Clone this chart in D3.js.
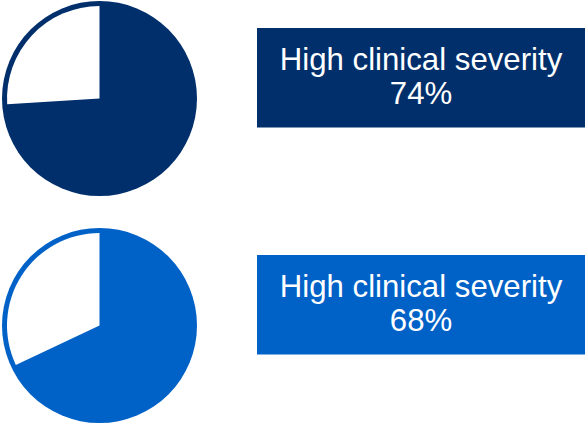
<!DOCTYPE html>
<html>
<head>
<meta charset="utf-8">
<script src="https://cdn.jsdelivr.net/npm/d3@7"></script>
<style>
  html, body { margin: 0; padding: 0; background: #fff; }
  svg { display: block; }
</style>
</head>
<body>
<svg id="chart" width="585" height="426"></svg>
<script>
// Share of patients with high clinical severity, one pie per group
const labels = ["High clinical severity", "High clinical severity"];
const shares = [74, 68];
const colors = ["#002F6C", "#0061C7"];

const svg = d3.select("#chart");
const W = 585;

const outerR = 97.5;
const innerR = 92.5;
const rowY = d3.scaleBand().domain(d3.range(shares.length)).range([0, 454]).paddingInner(0);

shares.forEach((v, i) => {
  const top = rowY(i);
  const cx = 99.5, cy = top + 98.5;
  const g = svg.append("g").attr("transform", `translate(${cx},${cy})`);

  // full coloured disc, then the remainder cut out in white inside the rim
  g.append("circle").attr("r", outerR).attr("fill", colors[i]);

  const pie = d3.pie().sort(null).value(d => d)([v, 100 - v]);
  const rest = pie[1];
  g.append("path")
    .attr("d", d3.arc().innerRadius(0).outerRadius(innerR)(rest))
    .attr("fill", "#fff");

  // label box
  const bx = 257, by = top + 28, bw = W - 257, bh = 99.5;
  svg.append("rect").attr("x", bx).attr("y", by).attr("width", bw).attr("height", bh)
    .attr("fill", colors[i]);

  const t = svg.append("text")
    .attr("x", bx + bw / 2)
    .attr("text-anchor", "middle")
    .attr("fill", "#fff")
    .attr("font-family", "Liberation Sans, Arial, sans-serif")
    .attr("font-size", 31.2);
  t.append("tspan").attr("x", bx + bw / 2).attr("y", top + 69.5).text(labels[i]);
  t.append("tspan").attr("x", bx + bw / 2).attr("y", top + 104).text(`${v}%`);
});
</script>
</body>
</html>
